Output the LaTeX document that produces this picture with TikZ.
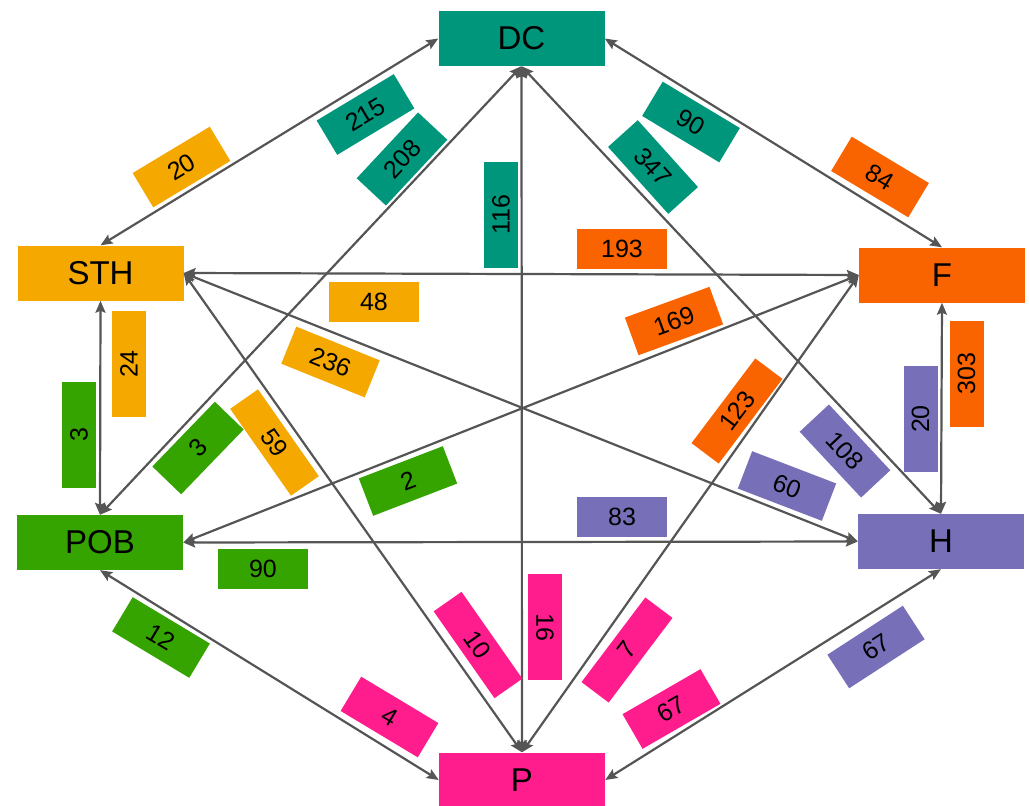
\documentclass[tikz,border=0pt]{standalone}
\usepackage{fontspec}
\setmainfont{Liberation Sans}
\usetikzlibrary{arrows.meta}
\definecolor{cDC}{HTML}{00967B}
\definecolor{cSTH}{HTML}{F5A800}
\definecolor{cF}{HTML}{FA6400}
\definecolor{cPOB}{HTML}{35A300}
\definecolor{cH}{HTML}{7770B8}
\definecolor{cP}{HTML}{FF1C8C}
\definecolor{edgegray}{HTML}{555555}
\tikzset{
  mainbox/.style={rectangle, draw=none, minimum width=166pt, minimum height=55pt, inner sep=0pt, font=\fontsize{33}{33}\selectfont},
  lblshort/.style={rectangle, draw=none, minimum width=90pt, minimum height=40pt, inner sep=0pt, font=\fontsize{25}{25}\selectfont},
  lbllong/.style={rectangle, draw=none, minimum width=106pt, minimum height=34pt, inner sep=0pt, font=\fontsize{25}{25}\selectfont},
  conn/.style={draw=edgegray, line width=2.2pt, {Stealth[length=12pt,width=10pt,inset=2pt]}-{Stealth[length=12pt,width=10pt,inset=2pt]}}
}
\begin{document}
\begin{tikzpicture}[x=1pt,y=-1pt]
\useasboundingbox (0,0) rectangle (1029,806);
% main nodes
\node[mainbox, fill=cDC] (DC) at (521.5,38.5) {DC};
\node[mainbox, fill=cSTH] (STH) at (100.5,273) {STH};
\node[mainbox, fill=cF] (F) at (942,275) {F};
\node[mainbox, fill=cPOB] (POB) at (100,542.5) {POB};
\node[mainbox, fill=cH] (H) at (941,541.5) {H};
\node[mainbox, fill=cP] (P) at (522,780) {P};
% connectors
\draw[conn] (DC.west) -- (STH.north);
\draw[conn] (DC.east) -- (F.north);
\draw[conn] (DC.south) -- (POB.north);
\draw[conn] (DC.south) -- (P.north);
\draw[conn] (DC.south) -- (H.north);
\draw[conn] (STH.east) -- (F.west);
\draw[conn] (STH.east) -- (H.west);
\draw[conn] (STH.east) -- (P.north);
\draw[conn] (STH.south) -- (POB.north);
\draw[conn] (F.west) -- (POB.east);
\draw[conn] (F.west) -- (P.north);
\draw[conn] (F.south) -- (H.north);
\draw[conn] (POB.east) -- (H.west);
\draw[conn] (POB.south) -- (P.west);
\draw[conn] (H.south) -- (P.east);
% labels
\node[lblshort, fill=cSTH, rotate=31] (l1) at (181.5,167) {20};
\node[lblshort, fill=cDC, rotate=31] (l2) at (365.5,114.5) {215};
\node[lblshort, fill=cDC, rotate=47] (l3) at (402,159) {208};
\node[lbllong, fill=cDC, rotate=90] (l4) at (501,215) {116};
\node[lblshort, fill=cDC, rotate=-31] (l5) at (691,122) {90};
\node[lblshort, fill=cDC, rotate=-48] (l6) at (653,167) {347};
\node[lblshort, fill=cF, rotate=-31] (l7) at (880,177) {84};
\node[lblshort, fill=cF] (l8) at (622,248.5) {193};
\node[lblshort, fill=cSTH] (l9) at (374,302) {48};
\node[lblshort, fill=cF, rotate=20] (l10) at (674,321) {169};
\node[lblshort, fill=cSTH, rotate=-22] (l11) at (330.5,362) {236};
\node[lbllong, fill=cSTH, rotate=90] (l12) at (129,364) {24};
\node[lbllong, fill=cPOB, rotate=90] (l13) at (79,434.5) {3};
\node[lblshort, fill=cPOB, rotate=46] (l14) at (198,448) {3};
\node[lbllong, fill=cSTH, rotate=-55] (l15) at (274.5,442.5) {59};
\node[lblshort, fill=cPOB, rotate=21] (l16) at (408,481) {2};
\node[lbllong, fill=cF, rotate=53] (l17) at (737,411) {123};
\node[lblshort, fill=cH, rotate=-47] (l18) at (845,451) {108};
\node[lblshort, fill=cH, rotate=-21] (l19) at (787,486) {60};
\node[lbllong, fill=cF, rotate=90] (l20) at (966.5,373.5) {303};
\node[lbllong, fill=cH, rotate=90] (l21) at (920.5,419) {20};
\node[lblshort, fill=cH] (l22) at (622,517) {83};
\node[lblshort, fill=cPOB] (l23) at (263,569) {90};
\node[lblshort, fill=cPOB, rotate=-31] (l24) at (161,637.5) {12};
\node[lblshort, fill=cP, rotate=-31] (l25) at (389.5,717) {4};
\node[lbllong, fill=cP, rotate=-55] (l26) at (478,645) {10};
\node[lbllong, fill=cP, rotate=-90] (l27) at (545,627) {16};
\node[lbllong, fill=cP, rotate=53] (l28) at (627,650) {7};
\node[lblshort, fill=cP, rotate=30] (l29) at (671.5,709) {67};
\node[lblshort, fill=cH, rotate=33] (l30) at (876,647) {67};
\end{tikzpicture}
\end{document}
